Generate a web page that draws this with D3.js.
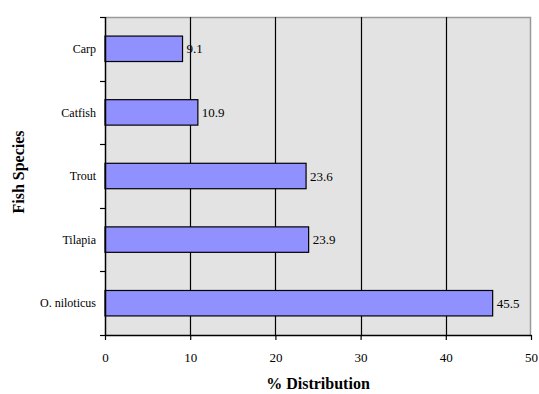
<!DOCTYPE html>
<html>
<head>
<meta charset="utf-8">
<script src="https://cdn.jsdelivr.net/npm/d3@7"></script>
<style>
  html, body { margin: 0; padding: 0; background: #ffffff; }
  svg { display: block; }
  svg text { font-family: "Liberation Serif", "Times New Roman", Times, "DejaVu Serif", serif; fill: #000; }
</style>
</head>
<body>
<svg id="chart" width="539" height="394"></svg>
<script>
// Share of each fish species (%)
const species = ["Carp", "Catfish", "Trout", "Tilapia", "O. niloticus"];
const distribution = [9.1, 10.9, 23.6, 23.9, 45.5];
const xTicks = [0, 10, 20, 30, 40, 50];

const FONT = '"Liberation Serif", "Times New Roman", Times, "DejaVu Serif", serif';

const margin = { top: 17, right: 8, bottom: 59, left: 105 };
const W = 539, H = 394;
const innerW = W - margin.left - margin.right;
const innerH = H - margin.top - margin.bottom;

const svg = d3.select("#chart");
const g = svg.append("g").attr("transform", `translate(${margin.left},${margin.top})`);

const x = d3.scaleLinear().domain([0, 50]).range([0, innerW]);
const y = d3.scaleBand().domain(species).range([0, innerH]).paddingInner(0.6).paddingOuter(0.3);

// plot background
g.append("rect")
  .attr("x", 0).attr("y", 0)
  .attr("width", innerW).attr("height", innerH)
  .attr("fill", "#e3e3e3");

// top & right frame
g.append("path")
  .attr("d", `M0,0.5H${innerW - 0.5}V${innerH}`)
  .attr("fill", "none").attr("stroke", "#9a9a9a").attr("stroke-width", 1.5);

// vertical gridlines
g.selectAll("line.grid")
  .data(xTicks.filter(t => t > 0 && t < 50))
  .join("line")
  .attr("class", "grid")
  .attr("x1", d => Math.round(x(d)) + 0.5).attr("x2", d => Math.round(x(d)) + 0.5)
  .attr("y1", 0).attr("y2", innerH)
  .attr("stroke", "#000").attr("stroke-width", 1.2);

// bars
g.selectAll("rect.bar")
  .data(species)
  .join("rect")
  .attr("class", "bar")
  .attr("x", 0)
  .attr("y", d => y(d))
  .attr("width", (d, i) => x(distribution[i]))
  .attr("height", y.bandwidth())
  .attr("fill", "#9090ff")
  .attr("stroke", "#000")
  .attr("stroke-width", 1.2);

// value labels
g.selectAll("text.val")
  .data(species)
  .join("text")
  .attr("class", "val")
  .attr("x", (d, i) => x(distribution[i]) + 4)
  .attr("y", d => y(d) + y.bandwidth() / 2)
  .attr("dy", "0.35em")
  .style("font-family", FONT)
  .attr("font-size", 13)
  .text((d, i) => distribution[i].toFixed(1));

// x axis
const xAxis = g.append("g")
  .attr("transform", `translate(0,${innerH})`)
  .call(d3.axisBottom(x).tickValues(xTicks).tickSize(5).tickPadding(13).tickSizeOuter(0));
xAxis.attr("font-family", null);
xAxis.select(".domain").attr("stroke", "#000").attr("stroke-width", 1.5);
xAxis.selectAll(".tick line").attr("stroke", "#000").attr("stroke-width", 1.2);
xAxis.selectAll(".tick text").attr("font-size", 13).style("font-family", FONT);

// y axis: ticks sit on category boundaries
const boundaries = d3.range(species.length + 1).map(i => i * innerH / species.length);
const yAxisG = g.append("g");
yAxisG.append("line")
  .attr("x1", 0.5).attr("x2", 0.5).attr("y1", 0).attr("y2", innerH)
  .attr("stroke", "#000").attr("stroke-width", 1.5);
yAxisG.selectAll("line.tick")
  .data(boundaries)
  .join("line")
  .attr("class", "tick")
  .attr("x1", -5).attr("x2", 0)
  .attr("y1", d => Math.round(d) + 0.5).attr("y2", d => Math.round(d) + 0.5)
  .attr("stroke", "#000").attr("stroke-width", 1.2);
yAxisG.selectAll("text.cat")
  .data(species)
  .join("text")
  .attr("class", "cat")
  .attr("x", -9)
  .attr("y", d => y(d) + y.bandwidth() / 2)
  .attr("dy", "0.35em")
  .attr("text-anchor", "end")
  .style("font-family", FONT)
  .attr("font-size", 12)
  .text(d => d);

// axis titles
svg.append("text")
  .attr("x", margin.left + innerW / 2)
  .attr("y", 389)
  .attr("text-anchor", "middle")
  .style("font-family", FONT)
  .attr("font-size", 16)
  .attr("font-weight", "bold")
  .text("% Distribution");

svg.append("text")
  .attr("transform", `translate(24,${margin.top + innerH / 2 - 4}) rotate(-90)`)
  .attr("text-anchor", "middle")
  .style("font-family", FONT)
  .attr("font-size", 16)
  .attr("font-weight", "bold")
  .text("Fish Species");
</script>
</body>
</html>
